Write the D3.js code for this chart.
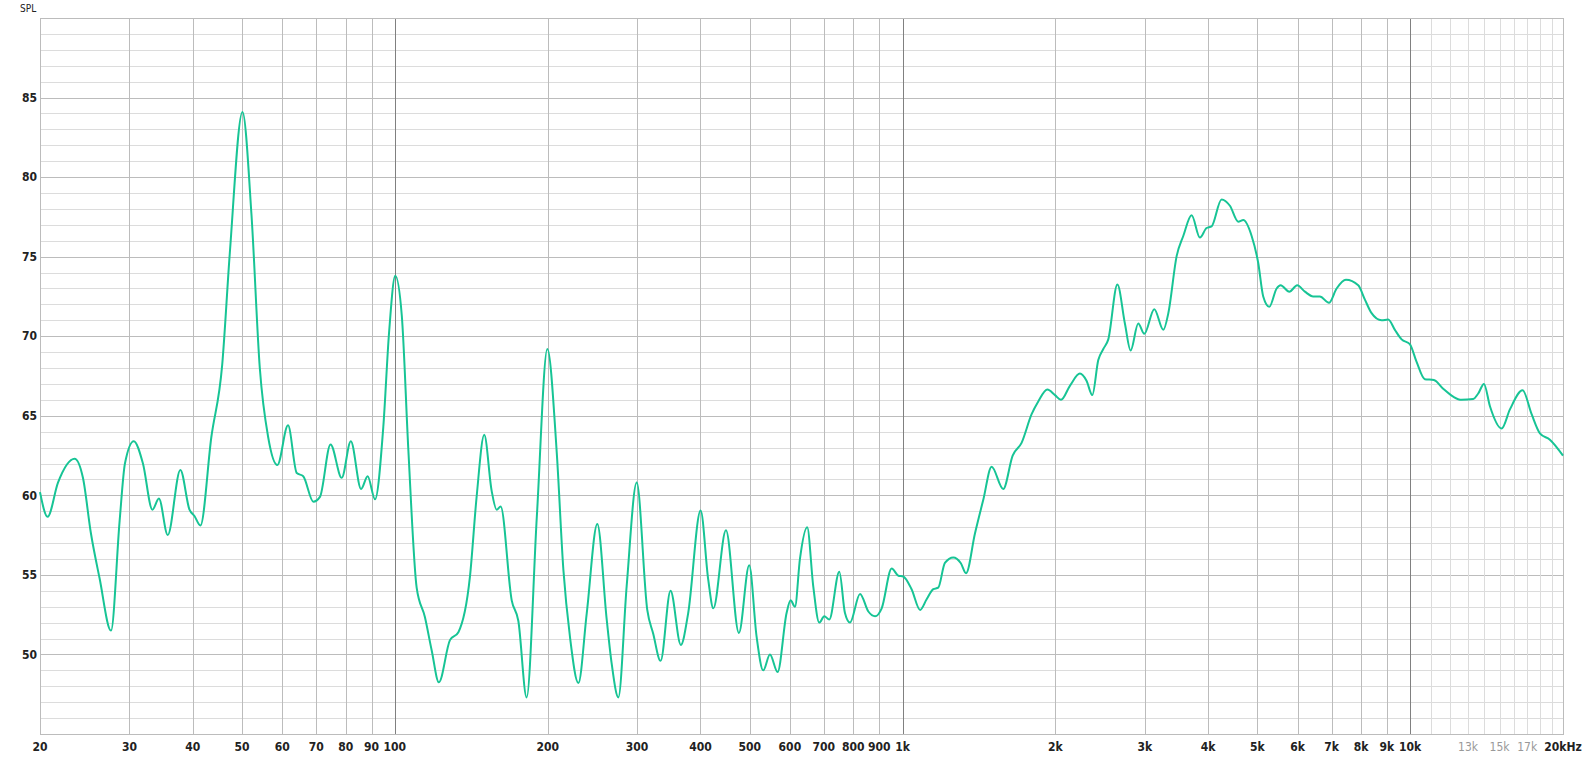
<!DOCTYPE html>
<html>
<head>
<meta charset="utf-8">
<script src="https://cdn.jsdelivr.net/npm/d3@7"></script>
<style>
  body { margin: 0; background: #fff; }
  svg { display: block; }
  text { font-family: "Liberation Sans Narrow", "DejaVu Sans Condensed", sans-serif; }
</style>
</head>
<body>
<div id="chart"></div>
<script>
// Frequency response
const freqs = [
  20, 20.7, 21.7, 23.4, 24.3, 25.2, 26.2, 27.6, 28.7, 29.4, 30.6, 31.9, 33.3, 34.3, 35.7, 37.8,
  39.4, 40.3, 41.4, 43.5, 45.7, 47.3, 50.1, 52.2, 54.2, 56.3, 58.7, 61.6, 64.1, 66.0, 69.1, 71.2,
  74.7, 78.6, 81.9, 85.8, 88.4, 91.4, 94.9, 97.4, 100.2, 103.2, 106.3, 110.4, 114.6, 118.2, 122.1,
  128.4, 133.4, 140.6, 144.9, 150.0, 155.1, 158.7, 161.6, 169.9, 175.1, 181.8, 190.4, 199.7, 208.4,
  214.8, 221.3, 229.9, 238.8, 250.5, 261.4, 267.3, 275.6, 286.2, 299.5, 314.2, 322.8, 333.8, 349.2,
  365.9, 378.3, 400.2, 414.3, 424.0, 449.0, 476.1, 498.9, 516.0, 531.7, 548.1, 567.5, 591.1, 601.9,
  614, 628, 649, 667, 685.5, 701.3, 717.4, 750.8, 770.3, 788, 824.7, 856.5, 882.9, 909.9, 952.1,
  981.2, 1003, 1042, 1083, 1115, 1150, 1176, 1212, 1259, 1302, 1334, 1389, 1442, 1498, 1579, 1648,
  1716, 1796, 1851, 1929, 1997, 2052, 2138, 2236, 2304, 2365, 2430, 2486, 2543, 2650, 2742, 2814,
  2913, 2994, 3133, 3264, 3339, 3468, 3573, 3711, 3853, 3971, 4062, 4251, 4415, 4584, 4691, 4872,
  5020, 5135, 5278, 5457, 5557, 5780, 5991, 6203, 6441, 6640, 6918, 7163, 7473, 7901, 8144, 8394,
  8784, 9051, 9330, 9619, 9984, 10291, 10687, 11134, 11614, 12156, 12622, 13311, 13616, 13974,
  14359, 15141, 15721, 16652, 17347, 18010, 18847, 20000
];
const splValues = [
  60.2, 58.65, 60.8, 62.3, 61.1, 57.6, 54.8, 51.5, 58.4, 62.0, 63.4, 62.0, 59.1, 59.8, 57.5, 61.6,
  59.1, 58.7, 58.1, 63.65, 68.2, 75.2, 84.1, 77.6, 68.0, 63.65, 61.9, 64.4, 61.4, 61.2, 59.6, 59.9,
  63.2, 61.1, 63.4, 60.4, 61.2, 59.75, 64.3, 70.2, 73.8, 71.3, 62.9, 54.2, 52.35, 50.25, 48.25,
  50.9, 51.4, 54.9, 59.9, 63.8, 60.3, 59.1, 59.3, 53.4, 52.1, 47.3, 58.65, 69.2, 62.7,
  55.3, 51.1, 48.2, 52.6, 58.2, 52.2, 49.45, 47.3, 54.3, 60.8, 52.8, 51.3, 49.6, 54.0,
  50.6, 52.6, 59.05, 54.7, 52.9, 57.8, 51.35, 55.6, 51.1, 49.0, 50.0, 48.9, 52.6, 53.4,
  53.0, 56.0, 58.0, 54.3, 52.0, 52.4, 52.2, 55.2, 52.6, 52.0, 53.8, 52.7, 52.4, 52.9, 55.4,
  54.95, 54.9, 54.1, 52.8, 53.45, 54.1, 54.2, 55.75, 56.1, 55.75, 55.1, 57.6, 59.7, 61.8, 60.4, 62.5,
  63.3, 65.1, 65.9, 66.65, 66.3, 66.0, 66.9, 67.65, 67.2, 66.3, 68.5, 69.2, 69.8, 73.25, 70.8, 69.1,
  70.8, 70.15, 71.7, 70.4, 71.45, 75.05, 76.3, 77.6, 76.2, 76.8, 76.9, 78.6, 78.2, 77.2, 77.3, 76.3,
  74.6, 72.5, 71.85, 73.0, 73.2, 72.8, 73.2, 72.8, 72.5, 72.5, 72.1, 73.0, 73.55, 73.2, 72.3, 71.45,
  71.0, 71.05, 70.4, 69.8, 69.5, 68.4, 67.3, 67.25, 66.7, 66.2, 66.0, 66.05, 66.4, 67.0,
  65.6, 64.2, 65.4, 66.6, 65.1, 63.9, 63.5, 62.5
];

// Axis ticks
const xLabelTicks = [20, 30, 40, 50, 60, 70, 80, 90, 100, 200, 300, 400, 500, 600, 700, 800, 900,
  1000, 2000, 3000, 4000, 5000, 6000, 7000, 8000, 9000, 10000];
const xLabels = ["20", "30", "40", "50", "60", "70", "80", "90", "100", "200", "300", "400", "500",
  "600", "700", "800", "900", "1k", "2k", "3k", "4k", "5k", "6k", "7k", "8k", "9k", "10k"];
const xFaintTicks = [13000, 15000, 17000];
const xFaintLabels = ["13k", "15k", "17k"];
const xMinorTicks = [11000, 12000, 13000, 14000, 15000, 16000, 17000, 18000, 19000];
const decadeTicks = [100, 1000, 10000];
const yLabelTicks = [50, 55, 60, 65, 70, 75, 80, 85];

const config = {
  width: 1583, height: 758,
  margin: { top: 18, right: 20, bottom: 24, left: 40 }
};
const innerW = config.width - config.margin.left - config.margin.right;
const innerH = config.height - config.margin.top - config.margin.bottom;

const svg = d3.select("#chart").append("svg")
  .attr("width", config.width)
  .attr("height", config.height);

const g = svg.append("g")
  .attr("transform", `translate(${config.margin.left},${config.margin.top})`);

const x = d3.scaleLog().domain([20, 20000]).range([0, innerW]);
const y = d3.scaleLinear().domain([45, 90]).range([innerH, 0]);

// horizontal grid: every 1 dB, darker every 5
const yGrid = d3.range(46, 90);
g.append("g").selectAll("line")
  .data(yGrid)
  .join("line")
  .attr("x1", 0).attr("x2", innerW)
  .attr("y1", d => Math.round(y(d)) + 0.5)
  .attr("y2", d => Math.round(y(d)) + 0.5)
  .attr("stroke", d => d % 5 === 0 ? "#bcbcbc" : "#dcdcdc")
  .attr("stroke-width", 1);

// vertical grid
g.append("g").selectAll("line")
  .data(xMinorTicks)
  .join("line")
  .attr("x1", d => Math.round(x(d)) + 0.5).attr("x2", d => Math.round(x(d)) + 0.5)
  .attr("y1", 0).attr("y2", innerH)
  .attr("stroke", "#dcdcdc");

g.append("g").selectAll("line")
  .data(xLabelTicks.filter(d => !decadeTicks.includes(d) && d !== 20))
  .join("line")
  .attr("x1", d => Math.round(x(d)) + 0.5).attr("x2", d => Math.round(x(d)) + 0.5)
  .attr("y1", 0).attr("y2", innerH)
  .attr("stroke", "#bcbcbc");

g.append("g").selectAll("line")
  .data(decadeTicks)
  .join("line")
  .attr("x1", d => Math.round(x(d)) + 0.5).attr("x2", d => Math.round(x(d)) + 0.5)
  .attr("y1", 0).attr("y2", innerH)
  .attr("stroke", "#808080");

// plot frame
g.append("rect")
  .attr("x", 0.5).attr("y", 0.5)
  .attr("width", innerW).attr("height", innerH)
  .attr("fill", "none")
  .attr("stroke", "#bcbcbc");

// response curve
const data = freqs.map((f, i) => ({ f: f, v: splValues[i] }));
const line = d3.line()
  .x(d => x(d.f))
  .y(d => y(d.v))
  .curve(d3.curveMonotoneX);

g.append("path")
  .datum(data)
  .attr("d", line)
  .attr("fill", "none")
  .attr("stroke", "#17c495")
  .attr("stroke-width", 2)
  .attr("stroke-linejoin", "round");

// x labels
g.append("g").selectAll("text")
  .data(xLabelTicks)
  .join("text")
  .attr("x", d => x(d))
  .attr("y", innerH + 17)
  .attr("text-anchor", "middle")
  .style("font-size", "12px")
  .style("font-weight", "bold")
  .attr("fill", "#222")
  .text((d, i) => xLabels[i]);

g.append("g").selectAll("text")
  .data(xFaintTicks)
  .join("text")
  .attr("x", d => x(d))
  .attr("y", innerH + 17)
  .attr("text-anchor", "middle")
  .style("font-size", "12px")
  .attr("fill", "#999")
  .text((d, i) => xFaintLabels[i]);

g.append("text")
  .attr("x", innerW)
  .attr("y", innerH + 17)
  .attr("text-anchor", "middle")
  .style("font-size", "12px")
  .style("font-weight", "bold")
  .attr("fill", "#222")
  .text("20kHz");

// y labels
g.append("g").selectAll("text")
  .data(yLabelTicks)
  .join("text")
  .attr("x", -3)
  .attr("y", d => y(d))
  .attr("dy", "0.35em")
  .attr("text-anchor", "end")
  .style("font-size", "12px")
  .style("font-weight", "bold")
  .attr("fill", "#222")
  .text(d => d);

svg.append("text")
  .attr("x", 20)
  .attr("y", 12)
  .style("font-size", "10px")
  .attr("fill", "#222")
  .text("SPL");
</script>
</body>
</html>
